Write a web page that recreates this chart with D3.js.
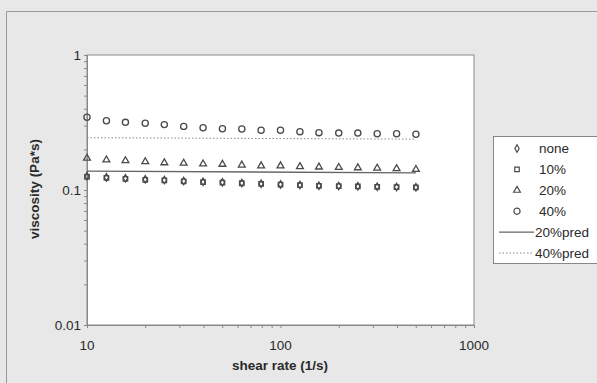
<!DOCTYPE html>
<html><head><meta charset="utf-8">
<script src="https://cdn.jsdelivr.net/npm/d3@7"></script>
<style>body{margin:0;background:#fff}svg{display:block}text{font-family:"Liberation Sans",Arial,sans-serif}</style>
</head><body><svg id="c" width="597" height="383"></svg>
<script>
const shearRate = [10,12.6,15.8,20,25.1,31.6,39.8,50.1,63.1,79.4,100,126,158,200,251,316,398,501];
const none  = [0.127,0.124,0.122,0.120,0.1186,0.1166,0.115,0.114,0.1127,0.1113,0.110,0.1089,0.1076,0.1071,0.1065,0.1058,0.1052,0.1047];
const p10   = [0.125,0.123,0.121,0.119,0.118,0.116,0.1145,0.1135,0.1122,0.1108,0.1095,0.1085,0.1072,0.1068,0.1062,0.1055,0.105,0.1045];
const p20   = [0.172,0.167,0.165,0.162,0.159,0.158,0.156,0.155,0.153,0.151,0.151,0.149,0.148,0.147,0.146,0.145,0.144,0.142];
const p40   = [0.3455,0.326,0.317,0.312,0.305,0.296,0.289,0.284,0.283,0.277,0.277,0.270,0.266,0.264,0.264,0.261,0.261,0.259];
const pred20 = [0.138,0.134];
const pred40 = [0.244,0.238];
const predX = [10,501];
const seriesNames = ["none","10%","20%","40%","20%pred","40%pred"];
const xTicks = [10,100,1000];
const yTicks = [0.01,0.1,1];

const svg = d3.select("#c");
svg.append("rect").attr("x",0).attr("y",0).attr("width",597).attr("height",383).attr("fill","#e8e8e8");
svg.append("path").attr("d","M6.5,383 V11.5 H597").attr("fill","none").attr("stroke","#999").attr("stroke-width",1);

const L=87,R=474,T=55,B=325;
const x = d3.scaleLog().domain([10,1000]).range([L,R]);
const y = d3.scaleLog().domain([0.01,1]).range([B,T]);
svg.append("rect").attr("x",L).attr("y",T).attr("width",R-L).attr("height",B-T).attr("fill","#fff").attr("stroke","#888");

const minorX=[],minorY=[];
for(let d=10;d<1000;d*=10)for(let k=1;k<10;k++)minorX.push(d*k);
minorX.push(1000);
for(let d=0.01;d<0.999;d*=10)for(let k=1;k<10;k++)minorY.push(+(d*k).toPrecision(3));
minorY.push(1);

const xAx = svg.append("g").attr("transform",`translate(0,${B})`)
  .call(d3.axisBottom(x).tickValues(minorX).tickSize(3).tickFormat(""));
xAx.select(".domain").attr("stroke","#888");
xAx.selectAll(".tick line").attr("stroke","#888");
const yAx = svg.append("g").attr("transform",`translate(${L},0)`)
  .call(d3.axisLeft(y).tickValues(minorY).tickSize(3).tickFormat(""));
yAx.select(".domain").attr("stroke","#888");
yAx.selectAll(".tick line").attr("stroke","#888");

svg.selectAll(".xl").data(xTicks).enter().append("text")
  .attr("x",d=>x(d)).attr("y",350).attr("text-anchor","middle")
  .attr("font-size",13.5).attr("fill","#2a2a2a").text(d=>String(d));
svg.selectAll(".yl").data(yTicks).enter().append("text")
  .attr("x",81).attr("y",d=>y(d)+4.5).attr("text-anchor","end")
  .attr("font-size",13.5).attr("fill","#2a2a2a").text(d=>String(d));

svg.append("text").attr("x",280).attr("y",370).attr("text-anchor","middle")
  .attr("font-size",13.5).attr("font-weight","bold").attr("fill","#2a2a2a").text("shear rate (1/s)");
svg.append("text").attr("transform","translate(39,189) rotate(-90)").attr("text-anchor","middle")
  .attr("font-size",13.5).attr("font-weight","bold").attr("fill","#2a2a2a").text("viscosity (Pa*s)");

const stroke="#4a4a4a";
const sym = {
  "none": d3.symbol().type(d3.symbolDiamond).size(16),
  "10%": d3.symbol().type(d3.symbolSquare).size(20),
  "20%": d3.symbol().type(d3.symbolTriangle).size(20),
  "40%": d3.symbol().type(d3.symbolCircle).size(30)
};
const data = {"none":none,"10%":p10,"20%":p20,"40%":p40};

const line = d3.line().x((d,i)=>x(predX[i])).y(d=>y(d));
svg.append("path").attr("d",line(pred20)).attr("fill","none").attr("stroke","#666").attr("stroke-width",1.3);
svg.append("path").attr("d",line(pred40)).attr("fill","none").attr("stroke","#888").attr("stroke-width",1).attr("stroke-dasharray","1.5,2");

["none","10%","20%","40%"].forEach(k=>{
  svg.append("g").selectAll("path").data(data[k]).enter().append("path")
    .attr("d",sym[k]()).attr("transform",(d,i)=>`translate(${x(shearRate[i])},${y(d)})`)
    .attr("fill","none").attr("stroke",stroke).attr("stroke-width",1.3);
});

// legend
const lg = svg.append("g");
lg.append("rect").attr("x",493.5).attr("y",136.5).attr("width",110).attr("height",127).attr("fill","#fff").attr("stroke","#888");
seriesNames.forEach((n,i)=>{
  const yy = 148.5 + i*20.9;
  if(sym[n]) lg.append("path").attr("d",sym[n]()).attr("transform",`translate(517,${yy})`).attr("fill","none").attr("stroke",stroke).attr("stroke-width",1.2);
  else lg.append("line").attr("x1",499).attr("x2",534).attr("y1",yy).attr("y2",yy)
    .attr("stroke",n==="20%pred"?"#666":"#888").attr("stroke-width",n==="20%pred"?1.3:1)
    .attr("stroke-dasharray",n==="20%pred"?null:"1.5,2");
  lg.append("text").attr("x",n.includes("pred")?535:539).attr("y",yy+4.5).attr("font-size",13.5).attr("fill","#2a2a2a").text(n);
});
</script></body></html>
